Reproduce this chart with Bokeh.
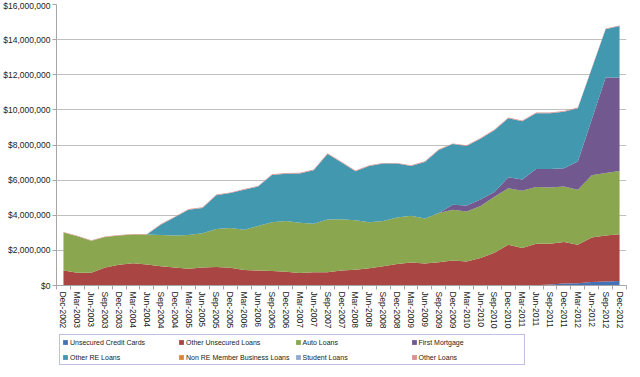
from bokeh.plotting import figure
from bokeh.layouts import column
from bokeh.models import (Range1d, FixedTicker, NumeralTickFormatter, Legend,
                          LegendItem, ColumnDataSource)
from bokeh.embed import file_html
from bokeh.resources import INLINE

quarters = ["Dec-2002", "Mar-2003", "Jun-2003", "Sep-2003", "Dec-2003", "Mar-2004",
            "Jun-2004", "Sep-2004", "Dec-2004", "Mar-2005", "Jun-2005", "Sep-2005",
            "Dec-2005", "Mar-2006", "Jun-2006", "Sep-2006", "Dec-2006", "Mar-2007",
            "Jun-2007", "Sep-2007", "Dec-2007", "Mar-2008", "Jun-2008", "Sep-2008",
            "Dec-2008", "Mar-2009", "Jun-2009", "Sep-2009", "Dec-2009", "Mar-2010",
            "Jun-2010", "Sep-2010", "Dec-2010", "Mar-2011", "Jun-2011", "Sep-2011",
            "Dec-2011", "Mar-2012", "Jun-2012", "Sep-2012", "Dec-2012"]

# values in millions of dollars
unsecured_credit_cards = [0, 0, 0, 0, 0, 0, 0, 0, 0, 0, 0, 0, 0, 0, 0, 0, 0, 0, 0, 0,
                          0, 0, 0, 0, 0, 0, 0, 0, 0, 0, 0, 0, 0, 0, 0.02, 0.06, 0.11,
                          0.13, 0.20, 0.23, 0.26]
other_unsecured_loans = [0.85, 0.72, 0.72, 1.02, 1.18, 1.26, 1.19, 1.09, 1.02, 0.95,
                         1.02, 1.05, 1.01, 0.88, 0.85, 0.83, 0.79, 0.71, 0.75, 0.75,
                         0.86, 0.90, 0.98, 1.09, 1.22, 1.31, 1.25, 1.33, 1.42, 1.37,
                         1.57, 1.86, 2.32, 2.14, 2.36, 2.32, 2.36, 2.19, 2.53, 2.61,
                         2.66]
auto_loans = [2.17, 2.08, 1.83, 1.74, 1.67, 1.64, 1.71, 1.78, 1.83, 1.92, 1.96, 2.17,
              2.27, 2.29, 2.54, 2.77, 2.88, 2.87, 2.77, 3.01, 2.91, 2.82, 2.62, 2.58,
              2.65, 2.66, 2.57, 2.80, 2.90, 2.85, 2.95, 3.20, 3.22, 3.25, 3.23, 3.20,
              3.16, 3.13, 3.55, 3.57, 3.60]
first_mortgage = [0, 0, 0, 0, 0, 0, 0, 0, 0, 0, 0, 0, 0, 0, 0, 0, 0, 0, 0, 0, 0, 0,
                  0, 0, 0, 0, 0, 0, 0.28, 0.34, 0.38, 0.27, 0.63, 0.65, 1.03, 1.06,
                  1.04, 1.61, 3.17, 5.43, 5.32]
other_re_loans = [0, 0, 0, 0, 0, 0, 0, 0.59, 1.03, 1.44, 1.43, 1.92, 1.98, 2.28, 2.24,
                  2.69, 2.69, 2.80, 3.04, 3.73, 3.24, 2.79, 3.21, 3.27, 3.07, 2.84,
                  3.21, 3.59, 3.45, 3.38, 3.46, 3.51, 3.36, 3.31, 3.17, 3.17, 3.23,
                  3.03, 2.89, 2.75, 2.93]
non_re_member_business_loans = [0] * 41
student_loans = [0] * 41
other_loans = [0.03, 0.03, 0.03, 0.03, 0.03, 0.03, 0.03, 0.04, 0.04, 0.04, 0.04, 0.04,
               0.04, 0.04, 0.04, 0.04, 0.04, 0.04, 0.04, 0.04, 0.04, 0.04, 0.04, 0.04,
               0.04, 0.04, 0.04, 0.04, 0.04, 0.04, 0.04, 0.04, 0.04, 0.04, 0.04, 0.04,
               0.04, 0.04, 0.04, 0.04, 0.04]

series = [
    ("Unsecured Credit Cards", unsecured_credit_cards, "#4472B6"),
    ("Other Unsecured Loans", other_unsecured_loans, "#A94542"),
    ("Auto Loans", auto_loans, "#8AA64F"),
    ("First Mortgage", first_mortgage, "#71598F"),
    ("Other RE Loans", other_re_loans, "#4198AF"),
    ("Non RE Member Business Loans", non_re_member_business_loans, "#DB843D"),
    ("Student Loans", student_loans, "#93A9CF"),
    ("Other Loans", other_loans, "#D9908E"),
]

unit = 1_000_000
data = {"x": list(range(len(quarters)))}
keys = []
for i, (name, vals, col) in enumerate(series):
    k = "s%d" % i
    keys.append(k)
    data[k] = [v * unit for v in vals]
source = ColumnDataSource(data)
colors = [s[2] for s in series]

p = figure(frame_width=570, frame_height=281,
           x_range=Range1d(-0.5, len(quarters) - 0.5),
           y_range=Range1d(0, 16 * unit), output_backend="svg",
           toolbar_location=None, min_border_left=49, min_border_right=5,
           min_border_top=4, min_border_bottom=0)
p.outline_line_color = None
p.background_fill_color = "white"
p.border_fill_color = "white"

p.varea_stack(stackers=keys, x="x", color=colors, source=source)

# axes
font = "Liberation Sans"
xa = p.xaxis[0]
xa.ticker = FixedTicker(ticks=list(range(len(quarters))),
                        minor_ticks=[i - 0.5 for i in range(len(quarters) + 1)])
xa.major_label_overrides = {i: q for i, q in enumerate(quarters)}
xa.major_label_orientation = "vertical"
xa.major_tick_out = 0
xa.major_tick_in = 0
xa.minor_tick_out = 4
xa.minor_tick_in = 0
xa.minor_tick_line_color = "#A6A6A6"
xa.axis_line_color = "#A6A6A6"
xa.major_label_text_font = font
xa.major_label_text_font_size = "8.5px"
xa.major_label_text_color = "#222222"
xa.major_label_standoff = 2

ya = p.yaxis[0]
ya.ticker = FixedTicker(ticks=[k * 2 * unit for k in range(9)])
ya.formatter = NumeralTickFormatter(format="$0,0")
ya.major_tick_out = 4
ya.major_tick_in = 0
ya.minor_tick_out = 0
ya.minor_tick_in = 0
ya.major_tick_line_color = "#A6A6A6"
ya.axis_line_color = "#A6A6A6"
ya.major_label_text_font = font
ya.major_label_text_font_size = "8.5px"
ya.major_label_text_color = "#222222"
ya.major_label_standoff = 2

p.xgrid.grid_line_color = None
p.ygrid.ticker = FixedTicker(ticks=[k * 2 * unit for k in range(1, 9)])
p.ygrid.grid_line_color = "#C0C0C0"
p.ygrid.grid_line_width = 1

# legend strip below the chart (its own renderers are hidden; only the key shows)
lg = figure(width=624, height=36, x_range=Range1d(0, 1), y_range=Range1d(-2, -1),
            output_backend="svg", toolbar_location=None,
            min_border_left=0, min_border_right=0, min_border_top=0,
            min_border_bottom=0, x_axis_location=None, y_axis_location=None)
lg.outline_line_color = None
lg.xgrid.grid_line_color = None
lg.ygrid.grid_line_color = None
lg.border_fill_color = "white"

key_renderers = lg.varea_stack(stackers=keys, x="x", color=colors, source=source)
items = []
for (name, vals, col), r in zip(series, key_renderers):
    r.visible = False
    items.append(LegendItem(label=name, renderers=[r]))

legend = Legend(items=items, ncols=4, orientation="horizontal", location=(3, 2))
legend.label_text_font = font
legend.label_text_font_size = "7px"
legend.label_text_color = "#222222"
legend.glyph_width = 6
legend.glyph_height = 6
legend.label_standoff = 2
legend.label_width = 103
legend.label_height = 10
legend.spacing = 5
legend.padding = 2
legend.margin = 0
legend.border_line_color = "#8080C8"
legend.border_line_width = 1
legend.background_fill_alpha = 1
lg.add_layout(legend, "center")

layout = column(p, lg, spacing=0)
open("out.html", "w").write(file_html(layout, INLINE))
